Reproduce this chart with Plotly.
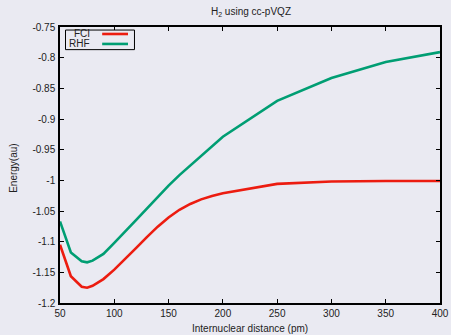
import plotly.graph_objects as go

# Data
distance_pm = [50, 60, 70, 75, 80, 90, 100, 110, 120, 130, 140, 150, 160, 170, 180, 190, 200, 250, 300, 350, 400]
fci_energy = [-1.105, -1.1564, -1.1735, -1.1750, -1.172, -1.161, -1.1456, -1.1285, -1.1105, -1.0925, -1.0755,
              -1.0605, -1.048, -1.0385, -1.031, -1.0255, -1.021, -1.0058, -1.002, -1.001, -1.001]
rhf_energy = [-1.067, -1.1175, -1.132, -1.1337, -1.131, -1.120, -1.102, -1.084, -1.065, -1.046, -1.027,
              -1.0085, -0.9915, -0.9755, -0.960, -0.9445, -0.929, -0.8705, -0.8332, -0.8072, -0.7909]

x_tick_vals = [50, 100, 150, 200, 250, 300, 350, 400]
x_tick_text = ["50", "100", "150", "200", "250", "300", "350", "400"]
y_tick_vals = [-0.75, -0.8, -0.85, -0.9, -0.95, -1.0, -1.05, -1.1, -1.15, -1.2]
y_tick_text = ["-0.75", "-0.8", "-0.85", "-0.9", "-0.95", "-1", "-1.05", "-1.1", "-1.15", "-1.2"]

series_names = ["FCI", "RHF"]
series_colors = ["#ec1c10", "#009e73"]

BG = "#eaeaf2"
FONT = "Liberation Sans, Arial, sans-serif"
TXT = "#222222"

fig = go.Figure()
for name, ys, col in zip(series_names, [fci_energy, rhf_energy], series_colors):
    fig.add_trace(go.Scatter(x=distance_pm, y=ys, mode="lines", name=name,
                             line=dict(color=col, width=2.6), showlegend=False, hoverinfo="skip"))

axis_common = dict(
    showgrid=False, zeroline=False, showline=True, linecolor="black", linewidth=1.5,
    mirror="ticks", ticks="inside", ticklen=4, tickwidth=1, tickcolor="black",
    tickfont=dict(family=FONT, size=10, color=TXT), automargin=False,
)

fig.update_xaxes(range=[50, 400], tickvals=x_tick_vals, ticktext=x_tick_text, **axis_common)
fig.update_yaxes(range=[-1.2, -0.75], tickvals=y_tick_vals, ticktext=y_tick_text,
                 ticklabelstandoff=1, **axis_common)

# gnuplot-style key: text on the left, line sample on the right, boxed
shapes = [dict(type="rect", xref="paper", yref="paper", x0=0.0145, x1=0.196, y0=0.918, y1=0.989,
               line=dict(color="black", width=1), fillcolor=BG, layer="above")]
annotations = [
    dict(xref="paper", yref="paper", x=0.5, y=-0.093, text="Internuclear distance (pm)", showarrow=False,
         xanchor="center", yanchor="middle", font=dict(family=FONT, size=10, color=TXT)),
    dict(xref="paper", yref="paper", x=-0.123, y=0.487, text="Energy(au)", showarrow=False, textangle=-90,
         xanchor="center", yanchor="middle", font=dict(family=FONT, size=10, color=TXT)),
]
key_rows_y = [0.9747, 0.9386]
for name, col, yy in zip(series_names, series_colors, key_rows_y):
    shapes.append(dict(type="line", xref="paper", yref="paper", x0=0.111, x1=0.179, y0=yy, y1=yy,
                       line=dict(color=col, width=2.6), layer="above"))
    annotations.append(dict(xref="paper", yref="paper", x=0.0846, y=yy, text=name, showarrow=False,
                            xanchor="right", yanchor="middle",
                            font=dict(family=FONT, size=10, color=TXT)))

fig.update_layout(
    width=451, height=335,
    margin=dict(l=59.5, r=11, t=26.5, b=31.5, autoexpand=False),
    paper_bgcolor=BG, plot_bgcolor=BG,
    title=dict(text="H<sub>2</sub> using cc-pVQZ", x=0.5565, xanchor="center", y=0.965, yanchor="middle",
               font=dict(family=FONT, size=10, color=TXT)),
    shapes=shapes, annotations=annotations,
)

fig.write_html("out.html", config={"displayModeBar": False},
               post_script="document.body.style.margin='0';document.body.style.overflow='hidden';")
